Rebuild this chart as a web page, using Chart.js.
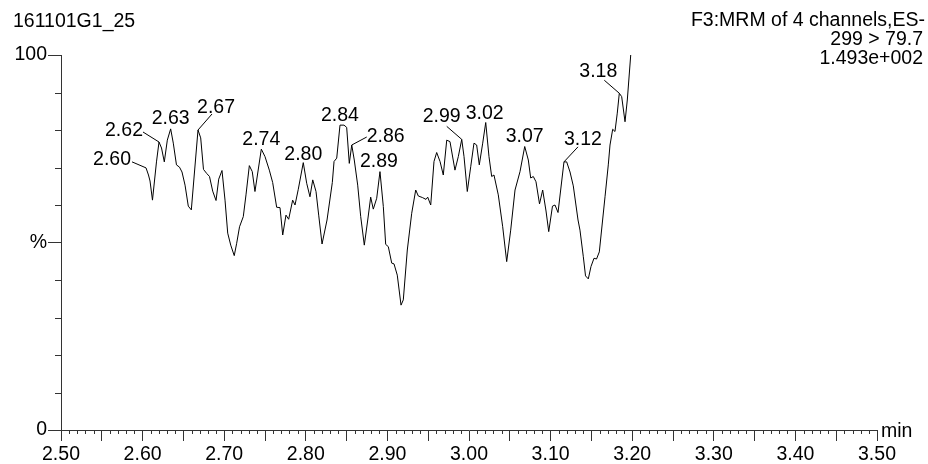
<!DOCTYPE html>
<html>
<head>
<meta charset="utf-8">
<script src="https://cdn.jsdelivr.net/npm/chart.js@4.4.0/dist/chart.umd.min.js"></script>
<style>
  html, body { margin: 0; padding: 0; background: #fff; }
  #wrap { width: 928px; height: 464px; position: relative; }
</style>
</head>
<body>
<div id="wrap"><canvas id="c"></canvas></div>
<script>
// MRM trace, retention time (min) vs relative intensity (%)
const times = [
  2.6042, 2.6072, 2.6091, 2.6121, 2.6170, 2.6201, 2.6232, 2.6266, 2.6303, 2.6344,
  2.6376, 2.6415, 2.6452, 2.6483, 2.6520, 2.6560, 2.6597, 2.6679, 2.6712, 2.6746,
  2.6786, 2.6820, 2.6859, 2.6900, 2.6933, 2.6973, 2.7010, 2.7043, 2.7080, 2.7123,
  2.7153, 2.7188, 2.7234, 2.7267, 2.7308, 2.7344, 2.7377, 2.7455, 2.7500, 2.7553,
  2.7594, 2.7643, 2.7684, 2.7717, 2.7757, 2.7790, 2.7839, 2.7868, 2.7908, 2.7969,
  2.8011, 2.8051, 2.8085, 2.8125, 2.8158, 2.8199, 2.8260, 2.8325, 2.8346, 2.8379,
  2.8419, 2.8468, 2.8501, 2.8533, 2.8563, 2.8594, 2.8636, 2.8673, 2.8717, 2.8759,
  2.8795, 2.8827, 2.8869, 2.8909, 2.8950, 2.8979, 2.9011, 2.9053, 2.9081, 2.9121,
  2.9167, 2.9195, 2.9244, 2.9298, 2.9347, 2.9379, 2.9428, 2.9473, 2.9494, 2.9531,
  2.9571, 2.9604, 2.9645, 2.9685, 2.9727, 2.9767, 2.9828, 2.9869, 2.9911, 2.9939,
  2.9979, 3.0021, 3.0061, 3.0094, 3.0126, 3.0168, 3.0205, 3.0245, 3.0278, 3.0306,
  3.0359, 3.0413, 3.0462, 3.0511, 3.0564, 3.0625, 3.0683, 3.0727, 3.0756, 3.0788,
  3.0821, 3.0864, 3.0903, 3.0944, 3.0977, 3.1023, 3.1054, 3.1091, 3.1164, 3.1197,
  3.1238, 3.1278, 3.1336, 3.1360, 3.1401, 3.1428, 3.1462, 3.1495, 3.1532, 3.1563,
  3.1597, 3.1667, 3.1707, 3.1728, 3.1761, 3.1789, 3.1817, 3.1842, 3.1871, 3.1912,
  3.1940, 3.1982
];
const intensity = [
  69.9, 68.0, 66.4, 61.3, 71.5, 76.8, 75.2, 71.5, 77.3, 80.3,
  76.5, 70.7, 70.1, 68.8, 65.3, 59.7, 58.7, 80.0, 77.9, 69.5,
  68.4, 67.6, 63.7, 61.2, 66.9, 69.2, 61.3, 52.5, 49.3, 46.5,
  49.8, 54.2, 56.9, 62.7, 70.5, 68.9, 63.6, 74.9, 72.9, 69.3,
  66.0, 59.4, 59.3, 52.0, 57.3, 56.2, 61.3, 60.0, 64.2, 71.3,
  65.8, 62.2, 66.7, 63.6, 57.3, 49.6, 56.0, 66.0, 71.6, 72.5,
  81.3, 81.3, 80.7, 71.1, 76.0, 72.0, 65.3, 56.9, 49.3, 56.0,
  62.1, 58.9, 61.8, 68.9, 59.6, 49.5, 48.9, 44.5, 44.3, 41.3,
  33.3, 34.7, 48.0, 57.8, 64.0, 62.4, 62.0, 61.5, 62.1, 60.0,
  71.6, 74.0, 71.6, 68.0, 77.3, 76.9, 69.3, 72.9, 77.5, 72.9,
  63.6, 70.2, 76.5, 76.0, 70.7, 76.5, 82.0, 72.9, 67.6, 68.0,
  62.7, 54.2, 44.9, 53.3, 64.0, 68.9, 75.6, 72.0, 67.2, 67.6,
  66.2, 60.3, 64.0, 58.4, 52.9, 59.7, 60.0, 58.0, 71.5, 71.5,
  68.8, 65.1, 56.0, 53.3, 46.2, 41.1, 40.3, 43.6, 45.8, 45.6,
  47.5, 62.2, 70.7, 76.0, 80.2, 79.6, 84.5, 89.8, 88.9, 82.2,
  88.0, 100.0
];

// annotated peaks
const peakLabels = ['2.60', '2.62', '2.63', '2.67', '2.74', '2.80', '2.84', '2.86', '2.89', '2.99', '3.02', '3.07', '3.12', '3.18'];
const peakTimes  = [2.6042, 2.6201, 2.6344, 2.6679, 2.7455, 2.7969, 2.8419, 2.8563, 2.8909, 2.9911, 3.0205, 3.0683, 3.1164, 3.1842];

// label placement relative to the peak (px): text centre dx, baseline dy, leader start (or null)
const peakTextOffset = [
  [-34, -3], [-35, -6], [0, -5], [18, -17], [0, -4], [0, -3], [0, -4],
  [34, -3], [-1, -5], [-20, -17], [-1, -4], [0, -5], [19, -17], [-21, -16]
];
const peakLeader = [
  [-14, -6], [-16, -10], null, [14, -16], null, null, null,
  [15, -8], null, [-15, -13], null, null, [14, -15], [-15, -13]
];

const xTickMinor = 0.01;
const yTickMinor = 10;

const FONT = '"Liberation Sans", Arial, Helvetica, sans-serif';
const AXIS = '#333';

const extras = {
  id: 'extras',
  afterDatasetsDraw(chart) {
    const { ctx, scales: { x, y }, chartArea } = chart;
    ctx.save();
    ctx.strokeStyle = AXIS;
    ctx.lineWidth = 1;

    // minor ticks
    ctx.beginPath();
    for (let v = x.min; v <= x.max + 1e-9; v += xTickMinor) {
      const k = Math.round(v / xTickMinor);
      if (k % 5 === 0) continue;
      const px = Math.round(x.getPixelForValue(k * xTickMinor)) + 0.5;
      ctx.moveTo(px, chartArea.bottom);
      ctx.lineTo(px, chartArea.bottom + 4);
    }
    for (let v = y.min; v <= y.max; v += yTickMinor) {
      if (v % 50 === 0) continue;
      const py = Math.round(y.getPixelForValue(v)) + 0.5;
      ctx.moveTo(chartArea.left - 6, py);
      ctx.lineTo(chartArea.left, py);
    }
    ctx.stroke();

    // peak labels
    ctx.font = '19.5px ' + FONT;
    ctx.fillStyle = '#000';
    ctx.strokeStyle = '#000';
    ctx.textAlign = 'center';
    ctx.textBaseline = 'alphabetic';
    peakTimes.forEach((t, i) => {
      let best = 0;
      times.forEach((tt, j) => { if (Math.abs(tt - t) < Math.abs(times[best] - t)) best = j; });
      const px = x.getPixelForValue(times[best]);
      const py = y.getPixelForValue(intensity[best]);
      const [dx, dy] = peakTextOffset[i];
      ctx.fillText(peakLabels[i], px + dx, py + dy);
      const l = peakLeader[i];
      if (l) {
        ctx.beginPath();
        ctx.moveTo(px + l[0], py + l[1]);
        ctx.lineTo(px, py);
        ctx.stroke();
      }
    });

    // header texts
    ctx.textAlign = 'left';
    ctx.fillText('161101G1_25', 13, 27);
    ctx.fillText('min', chartArea.right + 4, chartArea.bottom + 7);
    ctx.textAlign = 'right';
    ctx.fillText('F3:MRM of 4 channels,ES-', 925, 26);
    ctx.fillText('299 > 79.7', 923, 45);
    ctx.fillText('1.493e+002', 923, 64);
    ctx.restore();
  }
};

new Chart(document.getElementById('c'), {
  type: 'line',
  data: {
    datasets: [{
      data: times.map((t, i) => ({ x: t, y: intensity[i] })),
      borderColor: '#000',
      borderWidth: 1,
      pointRadius: 0,
      tension: 0,
      fill: false,
      clip: false
    }]
  },
  options: {
    responsive: true,
    maintainAspectRatio: false,
    animation: false,
    events: [],
    layout: { padding: { top: 55, right: 51, left: 0, bottom: 0 } },
    plugins: { legend: { display: false }, tooltip: { enabled: false } },
    scales: {
      x: {
        type: 'linear',
        min: 2.5,
        max: 3.5,
        border: { display: true, color: AXIS, width: 1 },
        grid: { drawOnChartArea: false, drawTicks: true, tickLength: 11, color: AXIS },
        ticks: {
          stepSize: 0.05,
          autoSkip: false,
          maxRotation: 0,
          padding: 2,
          color: '#000',
          font: { family: FONT, size: 19.5 },
          callback: (v) => Math.abs(v * 10 - Math.round(v * 10)) < 1e-6 ? v.toFixed(2) : ''
        },
        afterFit: (s) => { s.height = 34; }
      },
      y: {
        min: 0,
        max: 100,
        border: { display: true, color: AXIS, width: 1 },
        grid: { drawOnChartArea: false, drawTicks: true, tickLength: 13, color: AXIS },
        ticks: {
          stepSize: 50,
          padding: 1,
          color: '#000',
          font: { family: FONT, size: 19.5 },
          callback: (v) => v === 50 ? '%' : String(v)
        },
        afterFit: (s) => { s.width = 61; }
      }
    }
  },
  plugins: [extras]
});
</script>
</body>
</html>
